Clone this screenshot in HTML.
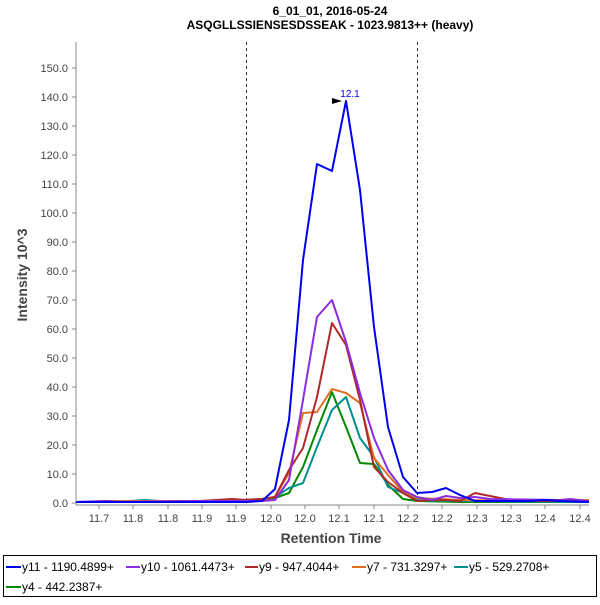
<!DOCTYPE html>
<html><head><style>
body{margin:0;background:#fff;}
svg text{font-family:"Liberation Sans",sans-serif;}
</style></head><body>
<svg width="600" height="600" xmlns="http://www.w3.org/2000/svg">
<rect width="600" height="600" fill="#fff"/>
<text x="330" y="15" font-size="12" font-weight="bold" text-anchor="middle" fill="#000">6_01_01, 2016-05-24</text>
<text x="330" y="29" font-size="12" font-weight="bold" text-anchor="middle" fill="#000">ASQGLLSSIENSESDSSEAK - 1023.9813++ (heavy)</text>
<line x1="76" y1="42" x2="76" y2="505" stroke="#888" stroke-width="1"/>
<line x1="76" y1="505" x2="589" y2="505" stroke="#888" stroke-width="1"/>
<g font-size="11" fill="#444" text-anchor="end">
<text x="68" y="507">0.0</text><text x="68" y="478">10.0</text><text x="68" y="449">20.0</text><text x="68" y="420">30.0</text><text x="68" y="391">40.0</text><text x="68" y="362">50.0</text><text x="68" y="333">60.0</text><text x="68" y="304">70.0</text><text x="68" y="275">80.0</text><text x="68" y="246">90.0</text><text x="68" y="217">100.0</text><text x="68" y="188">110.0</text><text x="68" y="159">120.0</text><text x="68" y="130">130.0</text><text x="68" y="101">140.0</text><text x="68" y="72">150.0</text>
</g>
<g stroke="#888"><path d="M72 503h4M72 474h4M72 445h4M72 416h4M72 387h4M72 358h4M72 329h4M72 300h4M72 271h4M72 242h4M72 213h4M72 184h4M72 155h4M72 126h4M72 97h4M72 68h4"/>
<path d="M99 505v4M133 505v4M168 505v4M202 505v4M236 505v4M271 505v4M305 505v4M339 505v4M374 505v4M408 505v4M442 505v4M477 505v4M511 505v4M545 505v4M580 505v4"/></g>
<g font-size="11" fill="#444" text-anchor="middle">
<text x="99" y="522">11.7</text><text x="133" y="522">11.8</text><text x="168" y="522">11.8</text><text x="202" y="522">11.9</text><text x="236" y="522">11.9</text><text x="271" y="522">12.0</text><text x="305" y="522">12.0</text><text x="339" y="522">12.1</text><text x="374" y="522">12.1</text><text x="408" y="522">12.2</text><text x="442" y="522">12.2</text><text x="477" y="522">12.3</text><text x="511" y="522">12.3</text><text x="545" y="522">12.4</text><text x="580" y="522">12.4</text>
</g>
<text x="331" y="543" font-size="14" font-weight="bold" fill="#444" text-anchor="middle">Retention Time</text>
<text transform="translate(27,275) rotate(-90)" font-size="14" font-weight="bold" fill="#444" text-anchor="middle">Intensity 10^3</text>
<line x1="246.5" y1="42" x2="246.5" y2="504" stroke="#333" stroke-dasharray="3,3"/>
<line x1="417.5" y1="42" x2="417.5" y2="504" stroke="#333" stroke-dasharray="3,3"/>
<g fill="none" stroke-width="2" stroke-linejoin="round">
<polyline stroke="#008a00" points="76,502 120,502 160,501 200,501 246,500 262,499 275,498 289,493 303,467 317,430 332,392 346,427 360,463 374,464 388,485 403,499 417,501 460,502 589,502"/>
<polyline stroke="#009090" points="76,502 100,502 130,501 145,500 160,501 200,502 246,500 262,499 275,497 289,488 303,483 317,447 332,410 346,397 360,438 374,457 388,487 403,493 417,500 460,501 589,502"/>
<polyline stroke="#e0701f" points="76,502 110,501 125,501 200,501 246,500 262,499 275,497 289,473 303,413 317,412 332,389 346,393 360,403 374,458 388,475 403,492 417,498 460,500 520,501 589,500"/>
<polyline stroke="#b02828" points="76,502 150,502 200,501 232,499 246,500 262,499 275,497 289,470 303,448 317,397 332,323 346,345 360,400 374,467 388,482 403,493 417,501 432,500 446,500 460,501 475,493 490,496 510,500 540,501 589,501"/>
<polyline stroke="#8c2be0" points="76,502 106,501 120,502 200,501 246,501 262,501 275,500 289,480 303,400 317,317 332,300 346,342 360,393 374,438 388,470 403,490 417,497 432,500 446,496 460,498 475,497 490,499 560,500 570,499 589,501"/>
<polyline stroke="#0000f0" points="76,502 200,502 246,502 262,501 275,489 289,420 303,260 317,164 332,171 346,101 360,190 374,327 388,427 403,477 417,493 432,492 446,488 460,495 475,501 530,501 545,500 560,501 589,502"/>
</g>
<polygon points="332,98 342,101 332,104" fill="#000"/>
<text x="350" y="97" font-size="10" fill="#0000f0" text-anchor="middle">12.1</text>
<rect x="3.5" y="555.5" width="593" height="41" fill="none" stroke="#000"/>
<g font-size="12" fill="#000">
<line x1="6" y1="567" x2="21" y2="567" stroke="#0000f0" stroke-width="2"/><text x="22" y="571">y11 - 1190.4899+</text>
<line x1="126" y1="567" x2="140" y2="567" stroke="#8c2be0" stroke-width="2"/><text x="141" y="571">y10 - 1061.4473+</text>
<line x1="245" y1="567" x2="258" y2="567" stroke="#b02828" stroke-width="2"/><text x="259" y="571">y9 - 947.4044+</text>
<line x1="352" y1="567" x2="366" y2="567" stroke="#e0701f" stroke-width="2"/><text x="367" y="571">y7 - 731.3297+</text>
<line x1="454" y1="567" x2="468" y2="567" stroke="#009090" stroke-width="2"/><text x="469" y="571">y5 - 529.2708+</text>
<line x1="6" y1="587" x2="21" y2="587" stroke="#008a00" stroke-width="2"/><text x="22" y="591">y4 - 442.2387+</text>
</g>
</svg>
</body></html>
